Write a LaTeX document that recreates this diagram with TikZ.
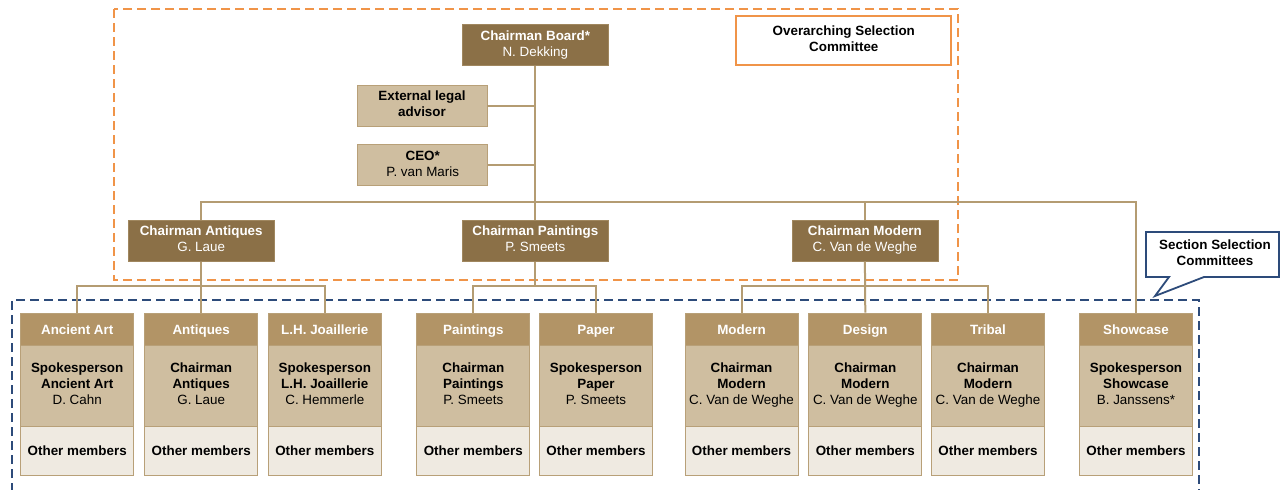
\documentclass[tikz,border=0pt]{standalone}
\usepackage{fontspec}
\setmainfont{Liberation Sans}
\definecolor{dkbrown}{RGB}{139,112,71}
\definecolor{dkbord}{RGB}{160,135,95}
\definecolor{lttan}{RGB}{207,190,160}
\definecolor{colhd}{RGB}{178,148,102}
\definecolor{colbt}{RGB}{239,234,225}
\definecolor{lineclr}{RGB}{180,156,114}
\definecolor{bordclr}{RGB}{184,160,120}
\definecolor{orng}{RGB}{240,148,72}
\definecolor{navy}{RGB}{45,75,122}
\newcommand{\fsz}{\fontsize{13.4}{16}\selectfont}
\newcommand{\mystrut}{\rule[-3.2pt]{0pt}{16pt}}
\tikzset{
  txt/.style={font=\fsz, align=center, inner sep=0pt,
    execute at begin node=\mystrut, execute at end node=\mystrut},
  chair/.style={txt, fill=dkbrown, draw=dkbord, line width=0.6pt, text=white, minimum width=146, minimum height=41},
  advbox/.style={txt, fill=lttan, draw=bordclr, line width=0.8pt, text=black, minimum width=130, minimum height=41},
  colh/.style={txt, fill=colhd, draw=bordclr, line width=1pt, text=white, font=\fsz\bfseries, minimum width=113, minimum height=32},
  colm/.style={txt, fill=lttan, draw=bordclr, line width=1pt, text=black, minimum width=113, minimum height=81},
  colb/.style={txt, fill=colbt, draw=bordclr, line width=1pt, text=black, font=\fsz\bfseries, minimum width=113, minimum height=49},
  conn/.style={draw=lineclr, line width=2pt},
  odash/.style={draw=orng, line width=2pt, dash pattern=on 9pt off 5pt},
  bdash/.style={draw=navy, line width=2pt, dash pattern=on 9pt off 5pt},
}
\begin{document}
\begin{tikzpicture}[x=1pt,y=-1pt]
\useasboundingbox (0,0) rectangle (1280,490);
\clip (0,0) rectangle (1280,490);
\fill[white] (0,0) rectangle (1280,490);

% dashed group frames
\draw[odash] (114,9) rectangle (958,280);
\draw[bdash] (12,520) -- (12,300) -- (1199,300) -- (1199,520);

% callout
\draw[navy, line width=1.8pt, fill=white, line join=miter]
  (1146,232) -- (1279,232) -- (1279,277) -- (1204,277) -- (1155,296) -- (1169,277) -- (1146,277) -- cycle;
\node[txt, font=\fsz\bfseries] (sscl) at (1215,254) {Section Selection\\Committees};

% overarching label
\node[txt, draw=orng, line width=2pt, minimum width=215, minimum height=49, font=\fsz\bfseries] (osc) at (843.8,40.7) {Overarching Selection\\Committee};

% coordinates for bars
\coordinate (barY) at (0,202);
\coordinate (subY) at (0,286);

% top nodes
\node[chair] (cb) at (535.3,45) {\textbf{Chairman Board*}\\N. Dekking};
\node[advbox] (ext) at (422,105.5) {\textbf{External legal}\\\textbf{advisor}};
\node[advbox] (ceo) at (422.7,165) {\textbf{CEO*}\\P. van Maris};
\node[chair] (ca) at (201.2,240.7) {\textbf{Chairman Antiques}\\G. Laue};
\node[chair] (cp) at (535.3,240.7) {\textbf{Chairman Paintings}\\P. Smeets};
\node[chair] (cm) at (864.9,240.7) {\textbf{Chairman Modern}\\C. Van de Weghe};

% columns
\foreach \nm/\cx/\hd/\md in {
  anc/77.2/Ancient Art/{\textbf{Spokesperson}\\\textbf{Ancient Art}\\D. Cahn},
  ant/201.2/Antiques/{\textbf{Chairman}\\\textbf{Antiques}\\G. Laue},
  lhj/324.8/L.H. Joaillerie/{\textbf{Spokesperson}\\\textbf{L.H. Joaillerie}\\C. Hemmerle},
  pnt/473.3/Paintings/{\textbf{Chairman}\\\textbf{Paintings}\\P. Smeets},
  pap/596/Paper/{\textbf{Spokesperson}\\\textbf{Paper}\\P. Smeets},
  mod/741.5/Modern/{\textbf{Chairman}\\\textbf{Modern}\\C. Van de Weghe},
  des/865.3/Design/{\textbf{Chairman}\\\textbf{Modern}\\C. Van de Weghe},
  tri/988/Tribal/{\textbf{Chairman}\\\textbf{Modern}\\C. Van de Weghe},
  shw/1136/Showcase/{\textbf{Spokesperson}\\\textbf{Showcase}\\B. Janssens*}} {
  \node[colm] (m\nm) at (\cx,385.5) {\md};
  \node[colb] (b\nm) at (\cx,450.5) {Other members};
  \node[colh] (h\nm) at (\cx,329.2) {\hd};
}

% connectors
\draw[conn] (cb.south) -- (cp.north);
\draw[conn] (ext.east) -- (ext.east -| cb.south);
\draw[conn] (ceo.east) -- (ceo.east -| cb.south);
\draw[conn] (ca.north) |- (barY -| hshw.north) -- (hshw.north);
\draw[conn] (cm.north) -- (cm.north |- barY);
\draw[conn] (ca.south) -- (hant.north);
\draw[conn] (hanc.north) |- (subY -| hlhj.north) -- (hlhj.north);
\draw[conn] (cp.south) -- (cp.south |- subY);
\draw[conn] (hpnt.north) |- (subY -| hpap.north) -- (hpap.north);
\draw[conn] (cm.south) -- (hdes.north);
\draw[conn] (hmod.north) |- (subY -| htri.north) -- (htri.north);
\end{tikzpicture}
\end{document}
